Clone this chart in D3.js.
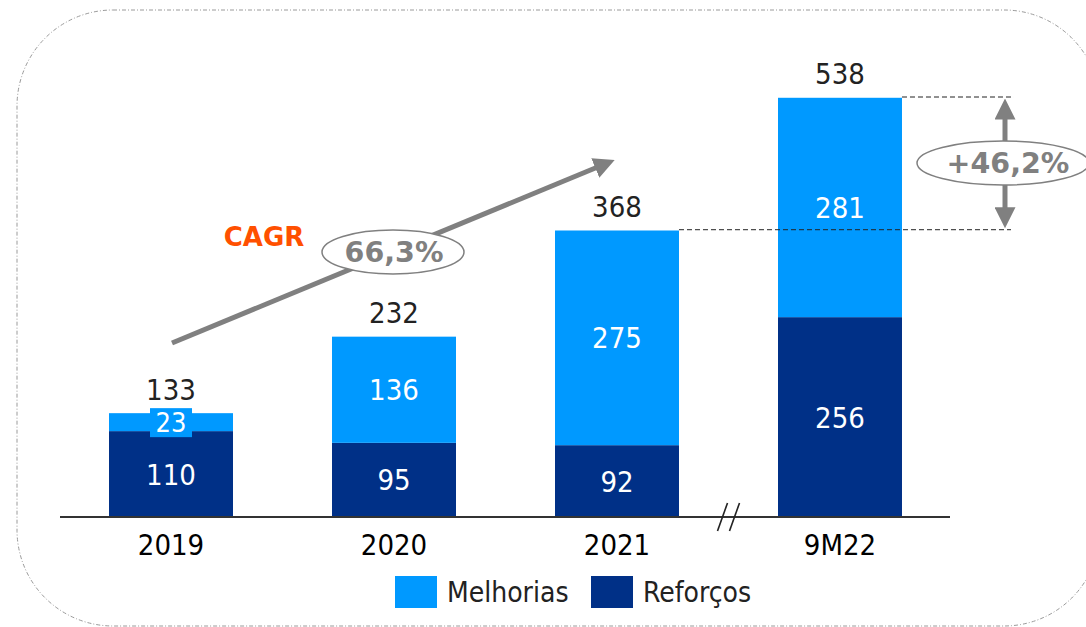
<!DOCTYPE html>
<html><head><meta charset="utf-8">
<script src="https://cdn.jsdelivr.net/npm/d3@7"></script>
<style>
html,body{margin:0;padding:0;background:#fff;}
svg{display:block;}
text{font-family:"DejaVu Sans Condensed","DejaVu Sans",Verdana,sans-serif;}
text.b{font-family:"DejaVu Sans",Verdana,sans-serif;font-weight:bold;}
</style></head>
<body>
<svg id="c" width="1086" height="627"></svg>
<script>
const categories = ["2019","2020","2021","9M22"];
const reforcos = [110,95,92,256];
const melhorias = [23,136,275,281];
const totals = [133,232,368,538];
const seriesNames = ["Melhorias","Reforços"];
const cagrLabel = "CAGR";
const cagrValue = "66,3%";
const growthLabel = "+46,2%";

const colors = {Melhorias:"#0099FF", "Reforços":"#003087"};
const svg = d3.select("#c");

// border
svg.append("rect").attr("x",17).attr("y",10).attr("width",1083).attr("height",616)
  .attr("rx",96).attr("ry",96).attr("fill","none").attr("stroke","#9a9a9a")
  .attr("stroke-width",1).attr("stroke-dasharray","4,2,1,2");

const x = d3.scaleBand().domain(categories).range([10,1001]).paddingInner(0.444).paddingOuter(0.444);
const y = d3.scaleLinear().domain([0,538]).range([517,97]);

const data = categories.map((c,i)=>({cat:c, r:reforcos[i], m:melhorias[i], t:totals[i]}));

// bars
const g = svg.append("g");
g.selectAll(".r").data(data).join("rect")
  .attr("x",d=>x(d.cat)).attr("width",x.bandwidth())
  .attr("y",d=>y(d.r)).attr("height",d=>y(0)-y(d.r)).attr("fill",colors["Reforços"]);
g.selectAll(".m").data(data).join("rect")
  .attr("x",d=>x(d.cat)).attr("width",x.bandwidth())
  .attr("y",d=>y(d.r+d.m)).attr("height",d=>y(d.r)-y(d.r+d.m)).attr("fill",colors.Melhorias);

// axis
const axisG = svg.append("g").attr("transform","translate(0,517)");
axisG.append("line").attr("x1",60).attr("x2",950).attr("stroke","#333").attr("stroke-width",2);
axisG.selectAll("text").data(categories).join("text")
  .attr("x",d=>x(d)+x.bandwidth()/2).attr("y",38).attr("text-anchor","middle")
  .attr("font-size",29).attr("fill","#000").text(d=>d);
// axis break
const bx = (x("2021")+x.bandwidth()+x("9M22"))/2;
[-6,6].forEach(o=>{
  axisG.append("line").attr("x1",bx+o-5).attr("y1",14).attr("x2",bx+o+5).attr("y2",-14)
    .attr("stroke","#222").attr("stroke-width",1.6);
});

// labels inside
const fs = 29;
g.selectAll(".rl").data(data).join("text")
  .attr("x",d=>x(d.cat)+x.bandwidth()/2).attr("y",d=>(y(0)+y(d.r))/2)
  .attr("dy","0.36em").attr("text-anchor","middle").attr("fill","#fff").attr("font-size",fs)
  .text(d=>d.r);
data.forEach(d=>{
  const cx = x(d.cat)+x.bandwidth()/2, cy=(y(d.r)+y(d.r+d.m))/2;
  const small = y(d.r)-y(d.r+d.m) < 30;
  if (small) {
    g.append("rect").attr("x",cx-21).attr("y",cy-14).attr("width",42).attr("height",29).attr("fill",colors.Melhorias);
  }
  g.append("text").attr("x",cx).attr("y",cy).attr("dy","0.36em").attr("text-anchor","middle")
    .attr("fill","#fff").attr("font-size",small?27:fs).text(d.m);
});
// totals
g.selectAll(".tl").data(data).join("text")
  .attr("x",d=>x(d.cat)+x.bandwidth()/2).attr("y",d=>y(d.t)-13)
  .attr("text-anchor","middle").attr("fill","#222").attr("font-size",fs).text(d=>d.t);

const defs = svg.append("defs");
defs.append("marker").attr("id","ah").attr("viewBox","0 0 10 10").attr("refX",5).attr("refY",5)
  .attr("markerWidth",4.2).attr("markerHeight",4.2).attr("orient","auto-start-reverse").attr("markerUnits","strokeWidth")
  .append("path").attr("d","M0,0 L10,5 L0,10 z").attr("fill","#808080");

// CAGR arrow
const x0 = x("2019")+x.bandwidth()/2, x2 = x("2021")+x.bandwidth()/2;
svg.append("line").attr("x1",x0+1).attr("y1",343).attr("x2",x2-12).attr("y2",164)
  .attr("stroke","#808080").attr("stroke-width",5).attr("marker-end","url(#ah)");
svg.append("text").attr("class","b").attr("x",264).attr("y",246).attr("text-anchor","middle")
  .attr("font-size",26).attr("fill","#FF5000").text(cagrLabel);
svg.append("ellipse").attr("cx",393).attr("cy",252).attr("rx",71).attr("ry",22)
  .attr("fill","#fff").attr("stroke","#808080").attr("stroke-width",1.5);
svg.append("text").attr("class","b").attr("x",394).attr("y",252).attr("dy","0.36em").attr("text-anchor","middle")
  .attr("font-size",28.5).attr("fill","#808080").text(cagrValue);

// growth annotation
const xr = x("9M22")+x.bandwidth();
svg.append("line").attr("x1",xr).attr("x2",1014).attr("y1",y(538)).attr("y2",y(538))
  .attr("stroke","#222").attr("stroke-width",1).attr("stroke-dasharray","5,3");
svg.append("line").attr("x1",x("2021")+x.bandwidth()).attr("x2",1011).attr("y1",y(368)).attr("y2",y(368))
  .attr("stroke","#222").attr("stroke-width",1).attr("stroke-dasharray","5,3");
svg.append("line").attr("x1",1005).attr("x2",1005).attr("y1",y(538)+12).attr("y2",y(368)-12)
  .attr("stroke","#808080").attr("stroke-width",5).attr("marker-end","url(#ah)").attr("marker-start","url(#ah)");
svg.append("ellipse").attr("cx",1003).attr("cy",163).attr("rx",86).attr("ry",22)
  .attr("fill","#fff").attr("stroke","#808080").attr("stroke-width",1.5);
svg.append("text").attr("class","b").attr("x",1008).attr("y",163).attr("dy","0.36em").attr("text-anchor","middle")
  .attr("font-size",28.5).attr("fill","#808080").text(growthLabel);

// legend
const leg = svg.append("g");
const legX = [395,591];
seriesNames.forEach((s,i)=>{
  leg.append("rect").attr("x",legX[i]).attr("y",576).attr("width",42).attr("height",32).attr("fill",colors[s]);
  leg.append("text").attr("x",legX[i]+52).attr("y",592).attr("dy","0.36em").attr("font-size",28).attr("fill","#222").text(s);
});
</script>
</body></html>
